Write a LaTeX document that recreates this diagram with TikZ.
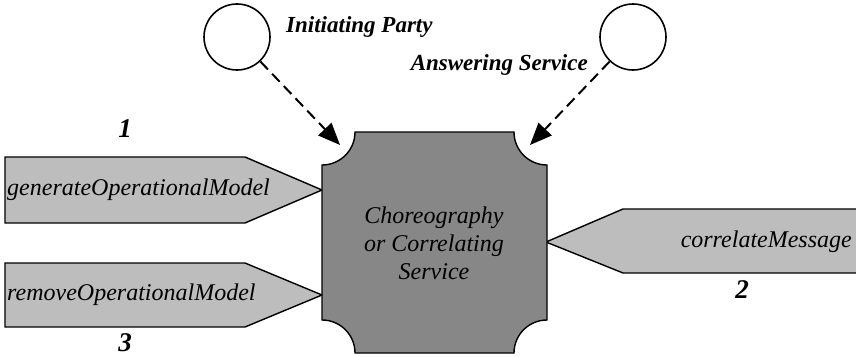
\documentclass[tikz,border=0pt]{standalone}
\usepackage{fontspec}
\setmainfont{Liberation Serif}
\usetikzlibrary{arrows.meta}
\definecolor{msgfill}{gray}{0.74}
\definecolor{corefill}{gray}{0.53}
\tikzstyle{party}=[draw,circle,line width=1.6pt,minimum size=66pt,inner sep=0]
\tikzstyle{msg}=[draw,line width=1.4pt,fill=msgfill]
\tikzstyle{core}=[draw,line width=1.4pt,fill=corefill]
\tikzstyle{txt}=[font=\fontsize{23}{28}\selectfont\itshape,inner sep=0]
\tikzstyle{op}=[font=\fontsize{24}{28}\selectfont\itshape,inner sep=0]
\tikzstyle{num}=[font=\fontsize{27}{28}\selectfont\bfseries\itshape,inner sep=0]
\tikzstyle{rel}=[draw,dash pattern=on 11pt off 6pt,line width=2pt,-{Triangle[length=22pt,width=18pt]}]

\begin{document}
\begin{tikzpicture}[x=1pt,y=-1pt]
                        \useasboundingbox (0,0) rectangle (856,356);

                        \draw[msg] (5,157) -- (245,157) -- (322,190) -- (245,223) -- (5,223) -- cycle;
                        \draw[msg] (5,263) -- (245,263) -- (322,295) -- (245,327) -- (5,327) -- cycle;
                        \draw[msg] (546,242) -- (623,209) -- (870,209) -- (870,273) -- (623,273) -- cycle;
                        \draw[core] (355,132) -- (514,132) arc[start angle=180,end angle=90,radius=33]
                        -- (547,320) arc[start angle=270,end angle=180,radius=33]
                        -- (355,353) arc[start angle=360,end angle=270,radius=33]
                        -- (322,165) arc[start angle=90,end angle=0,radius=33] -- cycle;

                        \node[party] (ip) at (237,37) {};
                        \node[party] (as) at (633,37) {};
                        \node[txt,anchor=west] (iplbl) at (286,27) {\bfseries Initiating Party};
                        \node[txt,anchor=east] (aslbl) at (588,65) {\bfseries Answering Service};

                        \node[op,align=center] (chor) at (434,243) {Choreography\\or Correlating\\Service};
                        \node[op,anchor=west] (gen) at (7,190) {generateOperationalModel};
                        \node[op,anchor=west] (rem) at (7,295) {removeOperationalModel};
                        \node[op,anchor=east] (cor) at (852,242) {correlateMessage};

                        \node[num] (n1) at (125,129) {1};
                        \node[num] (n2) at (742,290) {2};
                        \node[num] (n3) at (125,343) {3};

                        \coordinate (ipend) at (340,145);
                        \coordinate (asend) at (530,145);

                        \draw[rel]
                        (ip) -- (ipend);
                        \draw[rel]
                        (as) -- (asend);

\end{tikzpicture}
\end{document}
